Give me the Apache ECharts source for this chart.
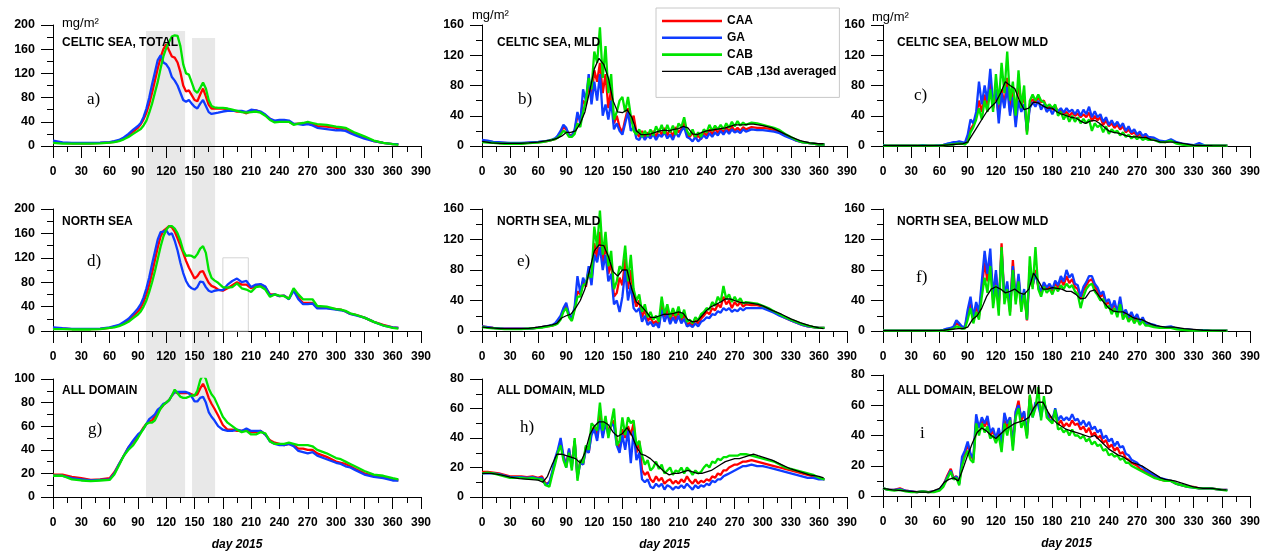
<!DOCTYPE html>
<html><head><meta charset="utf-8">
<style>html,body{margin:0;padding:0;background:#fff}#c{width:1266px;height:552px}</style>
<script src="https://cdn.jsdelivr.net/npm/echarts@6/dist/echarts.min.js"></script>
</head><body><div id="c"></div>
<script>
// ---------- x grids (day of 2015) ----------
const DAYS_S = [0,10,20,30,40,50,60,65,70,75, 80,85,90,93,96,99,102,105,108,111, 114,117,120,123,126,129,132,135,138,141, 144,147,150,153,156,159,162,165,168,171, 175,180,185,190,195,200,205,210,215,220, 225,230,235,240,245,250,255,260,265,270, 275,280,290,300,305,310,315,320,330,340, 350,360,366];
const DAYS_N = [0,6,12,18,24,30,36,42,48,54, 60,64,68,72,75,78,81,84,87,90, 93,96,99,102,105,108,111,114,117,120, 123,126,129,132,135,138,141,144,147,150, 153,156,159,162,165,168,171,174,177,180, 183,186,189,192,195,198,201,204,207,210, 213,216,219,222,225,228,231,234,237,240, 243,246,249,252,255,258,261,264,267,270, 273,276,279,282,288,294,300,306,312,318, 324,330,336,342,348,354,360,366];
const DAYS_B = [0,10,20,30,40,50,60,65,70,75, 80,85,90,95,100,105,110,115,120,125, 130,135,140,145,150,155,160,165,170,175, 180,185,190,195,200,205,210,215,220,225, 230,235,240,245,250,255,260,265,270,275, 280,285,290,295,300,310,320,330,340,350, 360,365];

const X_TICKS = {min:0, max:390, step:30};
const SERIES_NAMES = ['CAA','GA','CAB','CAB ,13d averaged'];

// ---------- a) CELTIC SEA, TOTAL ----------
const a_CAA = [7,5,4.5,4.5,4.5,5,6,7,9,13, 18,24,30,36,44,55,70,88,108,128, 146,160,168,158,148,146,138,122,100,90, 92,84,76,74,85,95,82,68,62,62, 62,62,61,59,57,57,54,58,59,56, 51,45,40,41,42,40,36,37,37,38, 36,33,32,30,28,29,24,20,14,8, 5,3,3];
const a_GA  = [9,6,5,5,5,5.5,6.5,8,10,14, 20,27,33,38,48,62,80,102,122,142, 150,138,135,128,114,108,100,88,76,73, 76,70,65,62,70,76,66,56,53,54, 55,57,58,58,58,58,56,60,59,57, 52,45,42,43,43,42,37,36,35,36, 34,30,28,26,26,25,21,18,12,8, 5,3,3];
const a_CAB = [5,4,4,4,4,4.5,5.5,6.5,8,11, 15,20,25,28,34,42,55,70,88,106, 128,148,162,172,181,183,182,165,135,120, 118,105,92,88,96,105,95,76,66,64, 63,63,62,60,58,56,55,56,57,55, 50,43,39,40,40,40,35,37,38,40, 38,36,35,32,31,30,26,22,16,9, 5,3,2];

// ---------- b) CELTIC SEA, MLD ----------
const b_CAA = [7,6,5,4,4,3.5,3.5,3.5,4,4.5, 5,5.5,6,7,8,9,12,18,25,22, 15,14,20,40,35,60,55,80,65,100, 85,110,70,95,50,75,30,40,25,18, 35,50,30,40,18,12,20,10,18,12, 20,12,22,15,24,14,22,12,25,18, 22,32,16,12,18,10,14,9,18,14, 22,15,24,17,23,18,25,19,26,20, 24,20,25,22,25,24,24,23,21,18, 14,11,7,5,4,3,2,2];
const b_GA  = [8,7,5.5,5,4.5,4,4,4,4.5,5, 5.5,6,6.5,7.5,8.5,10,14,20,28,24, 14,13,22,45,30,75,60,95,55,85, 60,95,40,55,35,60,22,30,20,15, 30,45,20,25,10,8,15,8,14,10, 16,8,15,12,18,10,15,8,18,12, 20,25,12,10,6,12,6,10,14,10, 17,12,18,14,20,15,21,16,22,18, 20,17,22,19,22,21,21,20,19,17, 13,10,7,5,4,3,2,2];
const b_CAB = [5,4.5,4,3.5,3,3,3,3,3.5,4, 4.5,5,6,7,8,9,11,15,20,18, 12,12,16,30,25,45,60,90,75,125, 110,157,90,132,70,95,35,45,60,65, 45,65,40,20,15,22,12,20,13,22, 14,26,18,28,16,28,18,27,15,30, 25,38,20,14,22,12,18,12,22,18, 28,20,27,22,28,22,30,24,32,26, 33,27,31,28,31,30,28,26,24,21, 16,12,8,5,4,3,2,2];
const b_AVG = [6,4,3.5,3.5,3.5,4,5,6,7,8, 10,13,18,18,20,30,45,72,102,116, 108,90,60,45,44,48,38,20,15,15, 16,18,20,21,20,22,23,26,24,16, 15,18,20,21,22,23,24,26,28,28, 28,29,29,28,27,24,18,12,7,4, 3,3];

// ---------- c) CELTIC SEA, BELOW MLD ----------
const c_CAA = [0.5,0.3,0.3,0.3,0.3,0.3,0.3,0.5,0.5,0.5, 0.8,1,2,3,3,4,4,4,3,8, 22,28,40,60,45,68,52,88,50,70, 40,75,55,90,45,75,35,85,55,65, 18,55,62,57,65,58,60,50,52,48, 53,45,47,42,45,40,44,40,43,38, 42,38,44,33,40,34,38,28,34,26, 30,24,28,22,26,18,22,16,18,13, 16,11,14,10,9,6,5,8,4,2.5, 1.5,1,1,0.5,0.5,0.3,0.3,0.3];
const c_GA  = [1,0.3,0.3,0.3,0.5,0.3,0.3,1,0.5,0.5, 1,1.5,3,4,5,5,6,5,4,15, 35,30,45,85,55,80,60,102,55,75, 30,70,50,78,40,65,25,60,45,55, 20,50,58,52,60,48,55,45,50,42, 50,46,50,44,50,45,48,42,48,40, 48,42,52,38,46,38,42,32,38,28, 34,27,32,25,30,20,26,18,22,15, 19,13,16,12,11,7,6,9,5,3, 2,1,4,0.5,0.5,0.3,0.3,0.3];
const c_CAB = [0.3,0.3,0.3,0.3,0.3,0.3,0.3,0.3,0.3,0.3, 0.5,1,1.5,2,2,3,3,3,2,5, 18,25,35,50,35,60,45,75,45,95, 55,110,70,125,60,85,40,100,50,80, 15,60,68,60,68,60,58,52,55,50, 55,40,45,35,42,32,40,32,38,30, 36,30,35,20,30,25,28,18,26,16, 22,18,20,14,18,12,15,10,13,9, 12,8,10,8,8,5,5,7,3,2, 1,0.5,0.5,0.3,0.3,0.3,0.3,0.3];
const c_AVG = [0.5,0.3,0.3,0.3,0.3,0.3,0.5,1,1.5,2, 2.5,3,5,15,25,35,45,52,58,70, 85,80,76,60,48,50,58,57,53,50, 50,45,42,40,38,37,33,30,33,34, 30,25,20,18,17,15,13,12,12,11, 11,8,7,5,5,5,3,1,0.5,0.3, 0.2,0.2];

// ---------- d) NORTH SEA ----------
const d_CAA = [5,4,3,3,3,3.5,5,7,9,13, 18,25,32,38,48,60,76,95,116,137, 155,164,168,172,170,163,152,140,128,115, 104,95,86,90,97,98,88,79,74,72, 68,66,70,75,80,76,76,70,74,76, 72,60,60,57,58,53,68,55,46,46, 46,38,38,36,35,32,28,27,22,15, 10,6,5];
const d_GA  = [6,4.5,3.5,3.5,3.5,4,6,8,10,15, 20,28,37,44,55,70,88,110,130,150, 162,163,165,158,160,148,132,112,95,82, 74,70,68,72,81,80,72,66,64,66, 67,67,76,82,86,80,82,72,76,77, 73,58,60,57,58,52,66,52,44,44, 45,37,37,35,34,32,28,26,22,15, 9,6,5];
const d_CAB = [3,3,2.5,2.5,2.5,3,5,6,8,11, 15,21,27,32,40,50,64,80,98,118, 138,155,166,172,172,168,160,148,132,123, 124,123,120,126,135,139,128,100,87,83, 79,72,71,72,78,70,68,64,72,73, 68,56,60,58,57,53,70,60,52,52, 52,41,40,36,35,33,29,27,22,15, 9,5,4];
const d_BOX = {from:180, to:207, top:120};

// ---------- e) NORTH SEA, MLD ----------
const e_CAA = [6,5,4,3.5,3,3,3,3,3,3.5, 4.5,5,6,6.5,7,9,12,18,28,33, 20,15,30,52,48,65,58,80,65,115, 95,130,90,115,75,90,45,50,70,60, 95,55,80,45,32,40,18,28,13,18, 10,13,7,35,18,30,13,25,15,27, 13,22,8,11,7,14,10,16,20,25, 22,30,27,35,31,45,35,40,30,38, 33,38,32,35,34,34,32,29,25,21, 17,14,11,8,6,5,4,4];
const e_GA  = [6,5,4,3.5,3,3,3,3,3.2,3.5, 4.5,5,6,7,8,10,15,20,30,37, 22,16,32,72,50,70,60,85,60,100, 90,110,80,100,65,75,35,40,25,45, 80,40,60,30,25,30,12,20,8,12, 6,10,4,28,12,22,9,18,10,20, 10,16,6,8,5,10,6,12,14,18, 17,22,21,26,24,30,27,30,25,28, 26,30,27,30,30,30,30,27,24,20, 17,14,11,8,6,5,4,4];
const e_CAB = [5,4,3.5,3,2.5,2.5,2.5,2.5,3,3.5, 4,4.5,5.5,6.5,7,8,10,15,25,30, 18,13,28,45,45,60,62,75,70,137, 110,158,100,130,85,105,55,65,85,80, 112,65,100,55,40,48,25,35,18,25, 15,20,12,45,22,35,18,30,20,32, 17,28,12,15,10,18,14,22,25,30, 28,38,33,45,38,59,42,48,38,45, 38,43,36,38,37,36,33,30,26,22, 18,15,12,9,7,5,4,4];
const e_AVG = [5,4,3,3,3,3.5,5,6,7,8, 10,17,20,22,30,40,55,80,105,113, 112,98,78,72,80,80,55,38,33,26, 18,18,20,22,22,23,25,23,15,12, 13,20,27,32,35,38,42,42,40,38, 37,37,36,35,33,27,22,16,11,7, 4,3];

// ---------- f) NORTH SEA, BELOW MLD ----------
const f_CAA = [0.5,0.3,0.3,0.3,0.3,0.3,0.3,0.3,0.3,0.5, 0.5,1,2,3,5,10,8,5,4,22, 38,15,32,20,55,90,65,95,40,75, 30,115,40,60,25,93,40,70,30,52, 14,85,58,80,58,50,62,55,60,52, 63,57,68,60,72,63,68,58,55,42, 53,60,66,68,58,53,45,48,35,38, 28,36,22,40,20,26,16,23,14,20, 11,16,9,9,7,5,4,5,3,2, 1.5,1,1,0.8,0.5,0.3,0.3,0.3];
const f_GA  = [0.5,0.3,0.3,0.3,0.3,0.3,0.3,0.3,0.3,0.5, 0.5,1.5,3,4,6,14,10,6,5,28, 45,18,38,25,65,105,75,108,45,80, 35,105,45,65,30,85,42,75,35,55, 15,80,60,75,60,52,64,57,62,55, 66,60,72,65,80,70,75,62,60,45, 58,64,72,72,62,57,48,52,38,42, 30,40,24,45,22,28,18,25,16,22, 12,18,10,10,8,5,5,6,3,2, 2,1,1,1,0.5,0.3,0.3,0.3];
const f_CAB = [0.3,0.3,0.3,0.3,0.3,0.3,0.3,0.3,0.3,0.3, 0.3,0.5,1,2,3,6,5,3,3,15, 30,10,25,15,45,70,50,85,30,60, 20,110,35,55,20,80,35,65,25,50, 15,98,55,110,55,45,58,50,55,48, 58,52,60,55,62,57,60,52,48,30, 45,55,60,62,52,47,40,42,30,33, 22,30,18,35,15,22,12,18,10,16, 8,13,7,7,5,4,4,4,2,1.5, 1,0.5,0.5,0.3,0.3,0.3,0.3,0.3];
const f_AVG = [0.3,0.3,0.3,0.3,0.3,0.3,0.5,1,2,2.5, 3,3,5,15,20,30,45,55,58,55, 50,52,55,50,48,55,76,66,55,55, 57,56,55,52,52,48,42,43,52,54, 45,37,30,26,25,25,22,18,16,15, 12,9,7,6,5,5,3,2,1,0.5, 0.3,0.3];

// ---------- g) ALL DOMAIN ----------
const g_CAA = [19,19,17,16,14.5,15,16,21,28,35, 42,47,52,55,59,62,64,65,68,72, 75,78,80,82,86,89,88,88,88,88, 88,87,86,87,92,96,91,84,79,75, 69,61,57,57,56,56,57,55,55,56, 53,48,46,45,44,45,44,41,41,40, 40,37,34,30,29,28,26,24,20,18, 17,15,14];
const g_GA  = [18,18,16,15,14,14.5,15,20,28,35, 42,48,53,55,58,62,66,68,70,74, 76,79,80,82,86,89,89,89,89,89, 88,85,81,81,84,85,80,72,68,65, 60,57,56,56,57,56,58,56,56,56, 53,47,45,44,44,45,43,39,38,37, 38,35,32,29,28,26,25,23,19,17, 16,14,14];
const g_CAB = [18,18,15,14,13.5,14,14.5,19,27,35, 40,44,50,54,58,62,63,63,65,70, 75,78,80,82,86,91,88,85,84,84, 85,86,86,90,99,104,100,92,87,84, 77,68,63,60,57,55,56,53,53,55, 54,47,45,45,45,46,45,44,44,44, 43,40,37,33,32,30,28,26,22,19, 18,16,15];

// ---------- h) ALL DOMAIN, MLD ----------
const h_CAA = [17,17,16.5,16,15,14,14,14,13.5,14, 13,14,9,10,16,24,30,36,28,22, 32,22,38,14,24,22,34,30,44,48, 40,58,42,52,45,48,52,38,32,46, 40,48,42,50,30,38,18,15,17,12, 10,14,11,13,9,11,12,9,11,9, 12,10,14,11,9,12,9,11,10,12, 11,14,13,16,15,18,18,20,21,22, 22,23,24,24,25,24,23,22,21,20, 19,18,17,16,15,14,13,12];
const h_GA  = [16,16,16,15.5,14.5,13.5,13.5,13.5,13,13.5, 12.5,13,8,10,17,26,32,40,28,20, 33,20,38,13,23,22,32,30,42,46, 38,52,40,50,42,50,48,35,30,42, 32,45,23,45,25,30,12,10,12,7, 6,9,7,9,5,8,7,5,7,6, 8,6,9,7,5,8,6,8,7,9, 8,11,10,12,12,14,15,16,17,18, 19,20,21,21,22,21,21,20,19,18, 17,16,15,14,13,13,12,12];
const h_CAB = [16,16.5,16,15,14,13,13,13,12.5,13, 12,12,8,7,15,22,30,35,25,20, 30,18,40,11,25,23,35,32,50,48, 45,64,45,55,40,50,60,35,38,54, 42,54,50,52,35,38,28,22,25,18, 20,24,19,22,16,18,20,15,18,17, 20,16,20,18,15,18,16,17,20,22, 20,24,23,26,25,27,27,28,28,28, 28,29,29,29,28,27,26,25,24,22, 20,19,18,17,16,15,13,12];
const h_AVG = [16,16,15,13.5,12.5,12,11.5,10,14,22, 29,29,28,27,26,23,30,42,48,51, 51,49,44,41,43,47,42,34,29,28, 26,23,20,17,15,16,16,17,18,17, 16,16,17,18,20,22,24,25,26,26, 27,28,29,28,27,25,22,19,17,15, 14,13];

// ---------- i) ALL DOMAIN, BELOW MLD ----------
const i_CAA = [5,4,4,5,3.5,3,2.5,3,2.5,3, 4,7,13,18,12,13,9,22,28,34, 27,24,50,45,50,46,50,40,43,37, 42,33,50,45,52,35,55,63,50,55, 40,66,55,60,62,55,62,56,52,52, 55,47,50,46,48,46,50,47,48,44, 46,42,45,40,42,38,40,35,37,32, 34,30,32,28,29,25,24,22,21,20, 18,17,16,15,13,11,10,10,8,7, 6,6,5,5,5,4.5,4,4];
const i_GA  = [5,4,4,4.5,3.5,3,2.5,3,2.5,3, 4,7,12,17,11,13,8,26,30,36, 28,25,54,45,52,48,53,42,45,38, 45,35,55,48,52,33,56,60,52,56, 40,64,52,62,60,52,63,55,50,50, 58,50,53,50,52,50,54,50,51,47, 50,46,49,44,46,42,44,38,40,36, 38,33,36,32,33,28,27,24,23,22, 20,19,17,16,14,12,11,10,8,7, 6,5.5,5,5,5,4.5,4,4];
const i_CAB = [5,4,3.5,4,3,2.5,2.5,3,2.5,2.5, 3.5,6,11,16,11,12,7,20,26,30, 24,22,48,40,48,42,46,38,40,35, 40,29,48,40,50,30,52,58,45,50, 38,67,52,58,72,50,66,52,50,48, 57,44,45,42,44,40,44,40,40,38, 40,36,38,34,36,33,34,30,31,27, 28,26,27,24,25,22,22,20,19,18, 17,16,15,14,12,11,10,10,8,7, 6,5.5,5,5,5,4.5,4,3.5];
const i_AVG = [5,4,3.5,3,2.5,2.5,5,9,11,12, 10,18,27,35,42,45,43,40,38,41, 44,46,48,49,50,52,58,62,62,56, 51,48,46,44,43,42,41,40,39,40, 37,34,31,29,27,26,24,22,21,20, 18,16,14,12,11,10,8,6,5,5, 4,4];

// ---------- shaded periods in column 1 (days) ----------
const BAND_START = [98.6, 147.4];
const BAND_END   = [140, 171.8];
const BAND_TOP   = [1, 0.985];

// ---------- layout ----------
const COLS = [{left:53,width:368},{left:482,width:365},{left:883,width:367}];
const ROWS = [{top:25,height:121},{top:209,height:122},{top:379,height:122}];
const COLORS = {CAA:'#ff0000', GA:'#0f3cff', CAB:'#00e400', AVG:'#000000'};
const SANS = '"Liberation Sans", Arial, sans-serif';

const panels = [
  {col:0,row:0,ymax:200,ystep:40,days:DAYS_S,caa:a_CAA,ga:a_GA,cab:a_CAB,avg:null,title:'CELTIC SEA, TOTAL',letter:'a)',lx:87,ly:100,unit:[62,23]},
  {col:1,row:0,ymax:160,ystep:40,days:DAYS_N,caa:b_CAA,ga:b_GA,cab:b_CAB,avg:b_AVG,title:'CELTIC SEA, MLD',letter:'b)',lx:518,ly:100,unit:[472,15]},
  {col:2,row:0,ymax:160,ystep:40,days:DAYS_N,caa:c_CAA,ga:c_GA,cab:c_CAB,avg:c_AVG,title:'CELTIC SEA, BELOW MLD',letter:'c)',lx:914,ly:96,unit:[872,17]},
  {col:0,row:1,ymax:200,ystep:40,days:DAYS_S,caa:d_CAA,ga:d_GA,cab:d_CAB,avg:null,title:'NORTH SEA',letter:'d)',lx:87,ly:262,box:d_BOX},
  {col:1,row:1,ymax:160,ystep:40,days:DAYS_N,caa:e_CAA,ga:e_GA,cab:e_CAB,avg:e_AVG,title:'NORTH SEA, MLD',letter:'e)',lx:517,ly:262},
  {col:2,row:1,ymax:160,ystep:40,days:DAYS_N,caa:f_CAA,ga:f_GA,cab:f_CAB,avg:f_AVG,title:'NORTH SEA, BELOW MLD',letter:'f)',lx:916,ly:278},
  {col:0,row:2,ymax:100,ystep:20,days:DAYS_S,caa:g_CAA,ga:g_GA,cab:g_CAB,avg:null,title:'ALL DOMAIN',letter:'g)',lx:88,ly:430},
  {col:1,row:2,ymax:80,ystep:20,days:DAYS_N,caa:h_CAA,ga:h_GA,cab:h_CAB,avg:h_AVG,title:'ALL DOMAIN, MLD',letter:'h)',lx:520,ly:428},
  {col:2,row:2,ymax:80,ystep:20,days:DAYS_N,caa:i_CAA,ga:i_GA,cab:i_CAB,avg:i_AVG,title:'ALL DOMAIN, BELOW MLD',letter:'i',lx:920,ly:434,top:375,height:121}
];
const TITLE_X = [62,497,897];
const TITLE_Y = [43,222,391];

const grid=[], xAxis=[], yAxis=[], series=[], graphic=[];
const black = '#000';

function line(name, days, vals, color, width, k, z){
  return {type:'line', name, xAxisIndex:k, yAxisIndex:k, data: days.map((d,i)=>[d, vals[i]]),
    symbol:'none', showSymbol:false, lineStyle:{color, width}, itemStyle:{color}, z, silent:true, animation:false};
}

panels.forEach((p,k)=>{
  const c = COLS[p.col], r = ROWS[p.row];
  grid.push({left:c.left, width:c.width, top: p.top!=null?p.top:r.top, height: p.height!=null?p.height:r.height});
  xAxis.push({type:'value', gridIndex:k, min:X_TICKS.min, max:X_TICKS.max, interval:X_TICKS.step,
    axisLine:{show:true,onZero:false,lineStyle:{color:black,width:1}},
    axisTick:{show:true,length:12,lineStyle:{color:black,width:1}},
    minorTick:{show:true,splitNumber:2,length:6,lineStyle:{color:black,width:1}},
    splitLine:{show:false}, minorSplitLine:{show:false},
    axisLabel:{fontFamily:SANS,fontWeight:'bold',fontSize:12,color:black,margin:20},
    name: p.row===2 ? 'day 2015' : '', nameLocation:'middle', nameGap:42,
    nameTextStyle:{fontFamily:SANS,fontStyle:'italic',fontWeight:'bold',fontSize:12,color:black}});
  yAxis.push({type:'value', gridIndex:k, min:0, max:p.ymax, interval:p.ystep,
    axisLine:{show:true,onZero:false,lineStyle:{color:black,width:1}},
    axisTick:{show:true,length:12,lineStyle:{color:black,width:1}},
    minorTick:{show:true,splitNumber:2,length:6,lineStyle:{color:black,width:1}},
    splitLine:{show:false}, minorSplitLine:{show:false},
    axisLabel:{fontFamily:SANS,fontWeight:'bold',fontSize:12.5,color:black,margin:18}});
  const s1 = line(SERIES_NAMES[0], p.days, p.caa, COLORS.CAA, 2.3, k, 3);
  if (p.box) {
    s1.markArea = {silent:true, z:1, itemStyle:{color:'rgba(0,0,0,0)', borderColor:'#d4d4d4', borderWidth:1},
      data:[[{xAxis:p.box.from, yAxis:0},{xAxis:p.box.to, yAxis:p.box.top}]]};
  }
  series.push(s1);
  series.push(line(SERIES_NAMES[1], p.days, p.ga, COLORS.GA, 2.3, k, 4));
  series.push(line(SERIES_NAMES[2], p.days, p.cab, COLORS.CAB, 2.3, k, 5));
  if (p.avg) series.push(line(SERIES_NAMES[3], DAYS_B, p.avg, COLORS.AVG, 1.3, k, 6));

  graphic.push({type:'text', x:TITLE_X[p.col], y:TITLE_Y[p.row], z:10,
    style:{text:p.title, font:'bold 12px '+SANS, fill:black, verticalAlign:'middle'}});
  graphic.push({type:'text', x:p.lx, y:p.ly, z:10,
    style:{text:p.letter, font:'17px "Liberation Serif", "Times New Roman", serif', fill:black, verticalAlign:'middle'}});
  if (p.unit) graphic.push({type:'text', x:p.unit[0], y:p.unit[1], z:10,
    style:{text:'mg/m²', font:'13px '+SANS, fill:black, verticalAlign:'middle'}});
});

// shaded periods spanning column 1
const kb = panels.length;
grid.push({left:COLS[0].left, width:COLS[0].width, top:31, height:467});
xAxis.push({type:'value', gridIndex:kb, min:X_TICKS.min, max:X_TICKS.max, show:false});
yAxis.push({type:'value', gridIndex:kb, min:0, max:1, show:false});
series.push({type:'line', name:'band', xAxisIndex:kb, yAxisIndex:kb, data:[[0,0]], symbol:'none',
  lineStyle:{opacity:0}, silent:true, z:-10, animation:false,
  markArea:{silent:true, z:-10, itemStyle:{color:'#e8e8e8'},
    data: BAND_START.map((s,i)=>[{xAxis:s, yAxis:0},{xAxis:BAND_END[i], yAxis:BAND_TOP[i]}])}});

const THICK_ICON = 'path://M0,0H60V2.6H0Z';
const THIN_ICON  = 'path://M0,0H60V1.3H0Z';
const chart = echarts.init(document.getElementById('c'), null, {renderer:'canvas'});
chart.setOption({
  animation:false,
  backgroundColor:'#fff',
  grid, xAxis, yAxis, series, graphic,
  legend:{data: SERIES_NAMES.map((n,i)=>({name:n, icon: i<3 ? THICK_ICON : THIN_ICON})),
    orient:'vertical', left:656, top:8, itemWidth:60, itemHeight:14, itemGap:4.8,
    padding:[7,3,20,6], borderColor:'#c8c8c8', borderWidth:1, backgroundColor:'#fff',
    textStyle:{fontFamily:SANS, fontWeight:'bold', fontSize:12, color:black}, selectedMode:false}
});
</script></body></html>
